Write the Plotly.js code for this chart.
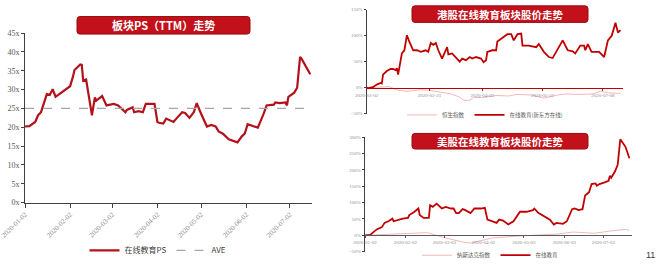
<!DOCTYPE html>
<html><head><meta charset="utf-8">
<script src="https://cdn.plot.ly/plotly-3.0.1.min.js"></script>
<style>html,body{margin:0;padding:0;background:#fff}#chart{width:660px;height:270px}</style>
</head><body><div id="chart"></div>
<script>
// ---------- Left chart: sector PS (TTM) ----------
const psDates = ["2020-01-02","2020-01-05","2020-01-09","2020-01-11","2020-01-13","2020-01-17","2020-01-19","2020-01-21","2020-01-23",
"2020-02-02","2020-02-04","2020-02-05","2020-02-09","2020-02-10","2020-02-11","2020-02-13","2020-02-17","2020-02-19","2020-02-20","2020-02-24","2020-02-27",
"2020-03-03","2020-03-06","2020-03-11","2020-03-12","2020-03-16","2020-03-17","2020-03-20","2020-03-23","2020-03-25","2020-03-31",
"2020-04-02","2020-04-03","2020-04-06","2020-04-08","2020-04-13","2020-04-15","2020-04-19","2020-04-21","2020-04-24","2020-04-27","2020-04-29",
"2020-05-02","2020-05-06","2020-05-09","2020-05-12","2020-05-14","2020-05-17","2020-05-21","2020-05-24","2020-05-27","2020-05-30",
"2020-06-01","2020-06-03","2020-06-07","2020-06-10","2020-06-14","2020-06-16","2020-06-21","2020-06-22","2020-06-25","2020-06-29","2020-06-30",
"2020-07-01","2020-07-05","2020-07-07","2020-07-09","2020-07-10","2020-07-16"];
const psValues = [20.2,20.3,21.4,23.2,24.0,28.8,28.6,30.1,28.1,
30.9,33.5,35.2,36.7,36.6,32.4,32.7,23.2,27.9,27.1,28.3,25.8,
26.2,25.8,24.0,24.6,25.3,24.0,24.3,24.0,26.2,26.2,
21.4,21.2,21.0,22.3,21.4,22.3,24.0,23.8,22.5,24.0,26.4,
23.6,20.2,20.6,20.2,18.9,18.3,16.8,16.5,16.0,17.6,
18.3,20.8,20.2,19.9,23.6,25.8,26.0,26.6,26.4,26.6,25.8,
28.1,29.2,30.5,38.7,38.2,34.1];
const psAve = 25.0;
const psTickVals = ["2020-01-02","2020-02-02","2020-03-02","2020-04-02","2020-05-02","2020-06-02","2020-07-02"];
const psTickText = psTickVals.slice();
const psYTicks = [0,5,10,15,20,25,30,35,40,45];
const psYText = psYTicks.map(v => v + "x");

// ---------- Top right: HK online education ----------
const hkDates = ["2020-01-02","2020-01-03","2020-01-07","2020-01-10","2020-01-13","2020-01-14","2020-01-15","2020-01-18","2020-01-21","2020-01-23","2020-01-25","2020-01-26","2020-01-27","2020-01-30",
"2020-02-01","2020-02-03","2020-02-05","2020-02-08","2020-02-11","2020-02-14","2020-02-18","2020-02-20","2020-02-22","2020-02-24","2020-02-26","2020-02-28",
"2020-03-02","2020-03-06","2020-03-07","2020-03-10","2020-03-16","2020-03-18","2020-03-21","2020-03-24","2020-03-26","2020-03-29",
"2020-04-02","2020-04-04","2020-04-06","2020-04-07","2020-04-11","2020-04-14","2020-04-15","2020-04-18","2020-04-20","2020-04-23","2020-04-26","2020-04-28",
"2020-05-01","2020-05-04","2020-05-05","2020-05-10","2020-05-16","2020-05-18","2020-05-22","2020-05-26","2020-05-29",
"2020-06-02","2020-06-06","2020-06-10","2020-06-14","2020-06-16","2020-06-20","2020-06-23","2020-06-24","2020-06-26","2020-06-29",
"2020-07-05","2020-07-09","2020-07-12","2020-07-15","2020-07-18","2020-07-20","2020-07-22"];
const hkEdu = [0,-1,1,6,9,8,25,32,36,36,34,37.5,25,66,
72,101,88,72,72,69,72,69,86,82.5,86,72,
56,78,64,66,50,56,53,59,56,59,
56,49,53,69,72,72,89,94,97,103,103,91,
103,104,81,81,78,84,69,59,57,
75,91,72,70,66,81,81,72,84,69,
69,59,91,100,125,106,111];
const hsiDates = ["2020-01-02","2020-01-10","2020-01-20","2020-01-24","2020-01-27","2020-02-03","2020-02-14","2020-02-21","2020-02-28","2020-03-09","2020-03-16","2020-03-19","2020-03-23","2020-03-27","2020-04-03","2020-04-14","2020-04-24","2020-04-30","2020-05-12","2020-05-22","2020-06-02","2020-06-09","2020-06-19","2020-06-30","2020-07-06","2020-07-13","2020-07-22"];
const hsiValues = [0,1,2,-2,-5,-7,-4,-5,-8,-12,-18,-24,-25,-19,-19,-15,-16,-13,-14,-20,-14,-12,-13,-12,-7,-10,-11];
const hkTickVals = ["2020-01-02","2020-02-21","2020-04-03","2020-05-21","2020-07-08"];

// ---------- Bottom right: US online education ----------
const usDates = ["2020-01-02","2020-01-06","2020-01-08","2020-01-11","2020-01-15","2020-01-17","2020-01-20","2020-01-23","2020-01-24","2020-01-28","2020-01-31",
"2020-02-04","2020-02-05","2020-02-09","2020-02-12","2020-02-13","2020-02-16","2020-02-20","2020-02-21","2020-02-23","2020-02-26",
"2020-03-01","2020-03-04","2020-03-08","2020-03-10","2020-03-12","2020-03-14","2020-03-17","2020-03-19","2020-03-23","2020-03-26","2020-03-31",
"2020-04-03","2020-04-05","2020-04-09","2020-04-12","2020-04-14","2020-04-17","2020-04-21","2020-04-25","2020-04-30",
"2020-05-05","2020-05-10","2020-05-11","2020-05-14","2020-05-19","2020-05-23","2020-05-26","2020-05-28",
"2020-06-02","2020-06-05","2020-06-09","2020-06-11","2020-06-14","2020-06-17","2020-06-19","2020-06-22","2020-06-24","2020-06-27","2020-06-28","2020-06-30",
"2020-07-04","2020-07-07","2020-07-08","2020-07-09","2020-07-12","2020-07-14","2020-07-16","2020-07-20","2020-07-23"];
const usEdu = [0,1,8,18,25,38,43,51,43,48,51,
53,62,72,82,62,53,53,92,87,97,
82,87,82,82,68,68,80,77,68,82,82,
84,48,43,38,48,45,33,43,72,
72,77,82,69,56,48,33,38,
35,43,80,82,77,80,122,132,157,159,152,157,
162,167,182,176,196,216,294,271,236];
const ndqDates = ["2020-01-02","2020-01-17","2020-02-19","2020-02-28","2020-03-16","2020-03-23","2020-04-09","2020-04-30","2020-05-29","2020-06-10","2020-06-26","2020-07-10","2020-07-20","2020-07-23"];
const ndqValues = [0,3,8,-3,-20,-24,-8,-2,4,10,6,14,18,15];
const usTickVals = ["2020-01-02","2020-02-02","2020-03-03","2020-04-02","2020-05-03","2020-06-03","2020-07-03"];

// ---------- layout helpers ----------
const W = 660, H = 270;
const px = x => x / W, py = y => 1 - y / H;
function roundRect(x0, y0, x1, y1, r) {
  const rx = r / W, ry = r / H;
  const a = px(x0), b = px(x1), t = py(y0), u = py(y1);
  return `M${a+rx},${t} L${b-rx},${t} Q${b},${t} ${b},${t-ry} L${b},${u+ry} Q${b},${u} ${b-rx},${u} L${a+rx},${u} Q${a},${u} ${a},${u+ry} L${a},${t-ry} Q${a},${t} ${a+rx},${t} Z`;
}
const RED = "#c00000";
const PINK = "#f2b8b8";
const serif = "Liberation Serif";
const cjk = "Noto Sans CJK SC";

const traces = [
  {x: psDates, y: psValues, type: "scatter", mode: "lines", name: "在线教育PS", xaxis: "x", yaxis: "y",
   line: {color: "#b3121b", width: 2.2}, legend: "legend"},
  {x: [psDates[0], psDates[psDates.length-1]], y: [psAve, psAve], type: "scatter", mode: "lines", name: "AVE",
   xaxis: "x", yaxis: "y", line: {color: "#a6a6a6", width: 1.3, dash: "dash"}, legend: "legend"},
  {x: hsiDates, y: hsiValues, type: "scatter", mode: "lines", name: "恒生指数", xaxis: "x2", yaxis: "y2",
   line: {color: PINK, width: 1}, legend: "legend2"},
  {x: hkDates, y: hkEdu, type: "scatter", mode: "lines", name: "在线教育(新东方在线)", xaxis: "x2", yaxis: "y2",
   line: {color: RED, width: 1.8}, legend: "legend2"},
  {x: ndqDates, y: ndqValues, type: "scatter", mode: "lines", name: "纳斯达克指数", xaxis: "x3", yaxis: "y3",
   line: {color: PINK, width: 1}, legend: "legend3"},
  {x: usDates, y: usEdu, type: "scatter", mode: "lines", name: "在线教育", xaxis: "x3", yaxis: "y3",
   line: {color: RED, width: 1.8}, legend: "legend3"}
];

const smallAxisFont = {family: serif, size: 5, color: "#8c8c8c"};
const layout = {
  width: W, height: H,
  margin: {l: 0, r: 0, t: 0, b: 0},
  paper_bgcolor: "#ffffff", plot_bgcolor: "rgba(0,0,0,0)",
  xaxis: {domain: [px(25), px(311.7)], anchor: "y", type: "date", range: ["2020-01-02", "2020-07-17"],
    tickvals: psTickVals, ticktext: psTickText, tickangle: -45, ticks: "outside", ticklen: 4, tickcolor: "#404040",
    showline: true, linecolor: "#404040", linewidth: 1, showgrid: false, zeroline: false,
    tickfont: {family: serif, size: 7, color: "#8c8c8c"}},
  yaxis: {domain: [py(208), py(34)], anchor: "x", range: [0, 45], tickvals: psYTicks, ticktext: psYText,
    ticks: "outside", ticklen: 3, tickcolor: "#404040", showline: true, linecolor: "#404040", linewidth: 1,
    showgrid: false, zeroline: false, tickfont: {family: serif, size: 8, color: "#595959"}},
  xaxis2: {domain: [px(366.7), px(623)], anchor: "free", position: py(90), type: "date",
    range: ["2020-01-02", "2020-07-24"], tickvals: hkTickVals, ticktext: hkTickVals, tickangle: 0,
    ticks: "outside", ticklen: 2, tickcolor: RED, showline: true, linecolor: RED, linewidth: 1,
    showgrid: false, zeroline: false, tickfont: smallAxisFont},
  yaxis2: {domain: [py(116.7), py(10)], anchor: "x2", range: [-50, 150], dtick: 50, ticksuffix: "%",
    ticks: "outside", ticklen: 2, tickcolor: "#404040", showline: true, linecolor: "#404040", linewidth: 1,
    showgrid: false, zeroline: false, tickfont: smallAxisFont},
  xaxis3: {domain: [px(365), px(632)], anchor: "free", position: py(241), type: "date",
    range: ["2020-01-02", "2020-07-25"], tickvals: usTickVals, ticktext: usTickVals, tickangle: 0,
    ticks: "outside", ticklen: 2, tickcolor: "#595959", showline: true, linecolor: "#595959", linewidth: 1,
    showgrid: false, zeroline: false, tickfont: smallAxisFont},
  yaxis3: {domain: [py(258.3), py(141)], anchor: "x3", range: [-50, 300], dtick: 50, ticksuffix: "%",
    ticks: "outside", ticklen: 2, tickcolor: "#404040", showline: true, linecolor: "#404040", linewidth: 1,
    showgrid: false, zeroline: false, tickfont: smallAxisFont},
  legend: {x: px(158), y: py(257), xanchor: "center", yanchor: "middle", orientation: "h",
    font: {family: cjk, size: 8, color: "#404040"}, bgcolor: "rgba(0,0,0,0)", itemwidth: 30, tracegroupgap: 0},
  legend2: {x: px(485), y: py(118), xanchor: "center", yanchor: "middle", orientation: "h",
    font: {family: cjk, size: 5.5, color: "#595959"}, bgcolor: "rgba(0,0,0,0)", itemwidth: 30},
  legend3: {x: px(490), y: py(262), xanchor: "center", yanchor: "middle", orientation: "h",
    font: {family: cjk, size: 5.5, color: "#595959"}, bgcolor: "rgba(0,0,0,0)", itemwidth: 30},
  shapes: [
    {type: "path", xref: "paper", yref: "paper", path: roundRect(77, 17, 250, 35, 3), fillcolor: "#c3111b", line: {color: "#9c0a10", width: 1}},
    {type: "path", xref: "paper", yref: "paper", path: roundRect(412, 6, 588, 23, 3), fillcolor: "#c3111b", line: {color: "#9c0a10", width: 1}},
    {type: "path", xref: "paper", yref: "paper", path: roundRect(412, 137, 588, 153, 3), fillcolor: "#c3111b", line: {color: "#9c0a10", width: 1}}
  ],
  annotations: [
    {xref: "paper", yref: "paper", x: px(163.5), y: py(26), text: "<b>板块PS（TTM）走势</b>", showarrow: false,
     font: {family: cjk, size: 11, color: "#ffffff"}, xanchor: "center", yanchor: "middle"},
    {xref: "paper", yref: "paper", x: px(500), y: py(14.5), text: "<b>港股在线教育板块股价走势</b>", showarrow: false,
     font: {family: cjk, size: 10.5, color: "#ffffff"}, xanchor: "center", yanchor: "middle"},
    {xref: "paper", yref: "paper", x: px(500), y: py(145), text: "<b>美股在线教育板块股价走势</b>", showarrow: false,
     font: {family: cjk, size: 10.5, color: "#ffffff"}, xanchor: "center", yanchor: "middle"},
    {xref: "paper", yref: "paper", x: px(650), y: py(262), text: "11", showarrow: false,
     font: {family: "Liberation Sans", size: 9, color: "#404040"}, xanchor: "center", yanchor: "middle"}
  ],
  showlegend: true
};

Plotly.newPlot("chart", traces, layout, {staticPlot: true, displayModeBar: false});
</script>
</body></html>
